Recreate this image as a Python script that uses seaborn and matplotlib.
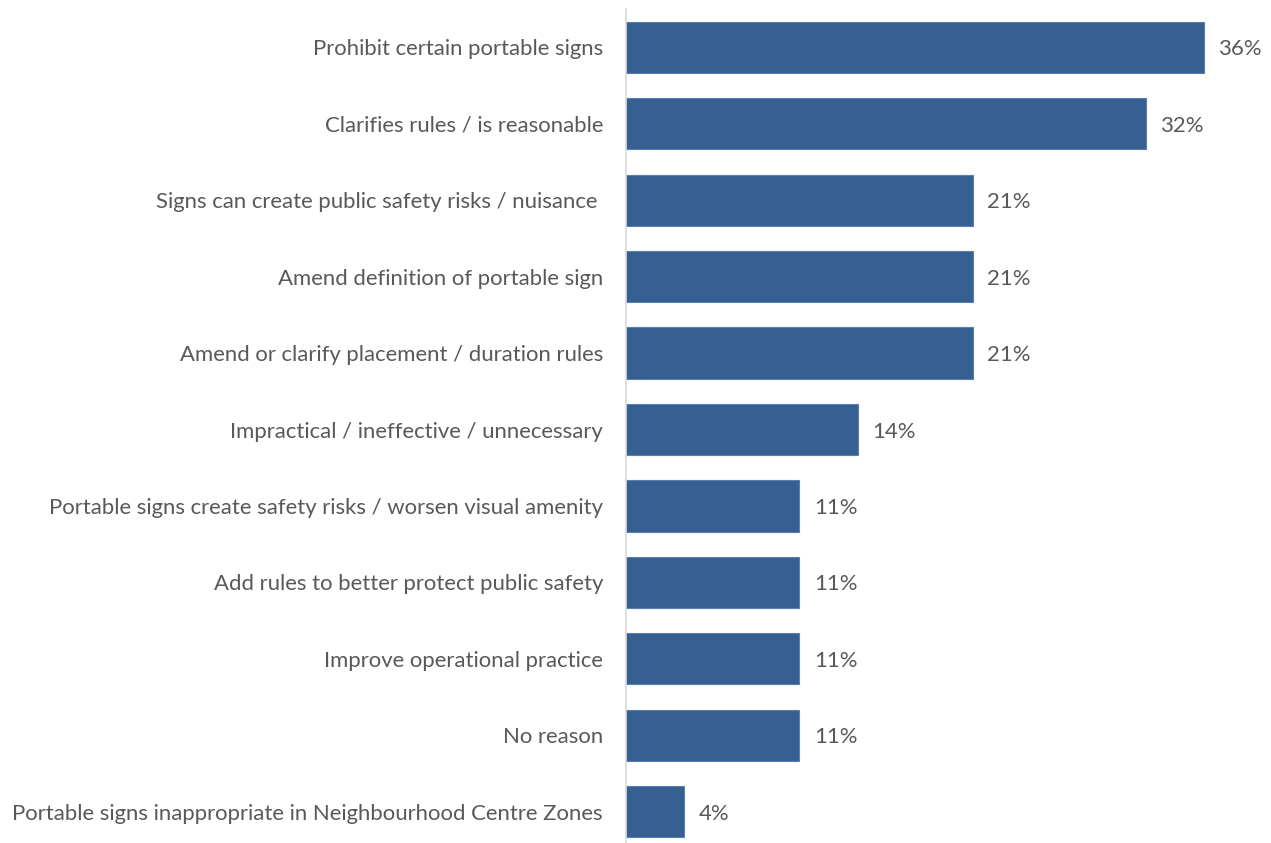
import matplotlib
matplotlib.use("Agg")
import matplotlib.pyplot as plt
import seaborn as sns
import pandas as pd

categories = [
    "Prohibit certain portable signs",
    "Clarifies rules / is reasonable",
    "Signs can create public safety risks / nuisance ",
    "Amend definition of portable sign",
    "Amend or clarify placement / duration rules",
    "Impractical / ineffective / unnecessary",
    "Portable signs create safety risks / worsen visual amenity",
    "Add rules to better protect public safety",
    "Improve operational practice",
    "No reason",
    "Portable signs inappropriate in Neighbourhood Centre Zones",
]
# share of respondents (%)
values = [35.7, 32.1, 21.4, 21.4, 21.4, 14.3, 10.7, 10.7, 10.7, 10.7, 3.6]

df = pd.DataFrame({"reason": categories, "pct": values})

sns.set_theme(style="white")
plt.rcParams["font.family"] = ["Lato", "DejaVu Sans"]

BAR = "#376092"
TEXT = "#595959"

fig = plt.figure(figsize=(12.71, 8.43), dpi=100)
ax = fig.add_axes([626 / 1271, -7 / 843, 648 / 1271, 841 / 843])

sns.barplot(data=df, x="pct", y="reason", orient="h", color=BAR,
            width=0.67, edgecolor="#5B7FB0", linewidth=0.8, ax=ax,
            saturation=1)

ax.set_xlim(0, 40)
ax.set_ylim(len(categories) - 0.5, -0.5)
ax.set_xlabel("")
ax.set_ylabel("")
ax.set_xticks([])
for s in ["top", "right", "bottom"]:
    ax.spines[s].set_visible(False)
ax.spines["left"].set_color("#D9D9D9")
ax.spines["left"].set_linewidth(1.2)
ax.tick_params(axis="y", length=0, pad=16.5, labelsize=15.9, labelcolor=TEXT)

for i, v in enumerate(values):
    ax.text(v + 0.9, i, f"{v:.0f}%", va="center_baseline", ha="left",
            fontsize=15.9, color=TEXT)

fig.savefig("out.png", dpi=100)
